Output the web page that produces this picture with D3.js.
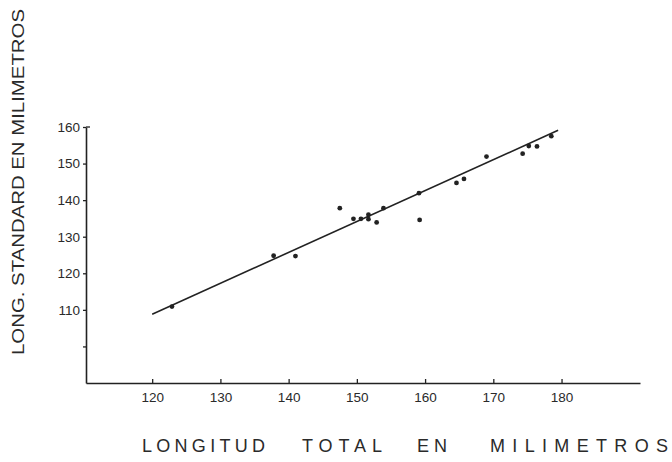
<!DOCTYPE html>
<html><head><meta charset="utf-8">
<script src="https://cdn.jsdelivr.net/npm/d3@7"></script>
<style>
html,body{margin:0;padding:0;background:#fff;}
svg{display:block;}
text{font-family:"Liberation Sans",Arial,sans-serif;fill:#2a2a2a;}
</style></head>
<body>
<svg id="c" width="672" height="462"></svg>
<script>
// Data
const totalLength = [122.9, 137.8, 141.0, 147.5, 149.5, 150.6, 151.7, 151.7, 152.9, 153.9, 159.1, 159.2, 164.6, 165.7, 169.0, 174.3, 175.2, 176.4, 178.5];
const standardLength = [110.9, 124.8, 124.7, 137.8, 134.9, 134.9, 136.0, 134.8, 133.9, 137.8, 141.9, 134.6, 144.7, 145.8, 151.9, 152.7, 154.8, 154.7, 157.5];
const fitX = [120, 179.5];
const fitY = [108.8, 159.1];
const xTicks = [120, 130, 140, 150, 160, 170, 180];
const yTicks = [100, 110, 120, 130, 140, 150, 160];
const yTickLabels = ["", "110", "120", "130", "140", "150", "160"];
const yTitle = "LONG. STANDARD EN MILIMETROS";
const xTitleWords = ["LONGITUD", "TOTAL", "EN", "MILIMETROS"];

const svg = d3.select("#c");
const ink = "#222";

const x = d3.scaleLinear().domain([110.3, 191.5]).range([86, 640]);
const y = d3.scaleLinear().domain([90, 160]).range([383, 127]);

// axes
const gx = svg.append("g").attr("transform", "translate(0,383)")
  .call(d3.axisBottom(x).tickValues(xTicks).tickSizeInner(-4).tickSizeOuter(0).tickPadding(12));
gx.select(".domain").attr("stroke", ink).attr("stroke-width", 1.6);
gx.selectAll(".tick line").attr("stroke", ink).attr("stroke-width", 1.3);
gx.selectAll(".tick text").attr("font-size", 13.5).attr("fill", "#2a2a2a")
  .attr("font-family", "Liberation Sans, Arial, sans-serif").attr("dy", "0.71em").attr("y", 9);

const gy = svg.append("g").attr("transform", "translate(86,0)")
  .call(d3.axisLeft(y).tickValues(yTicks).tickFormat((d, i) => yTickLabels[i]).tickSizeInner(3).tickSizeOuter(0).tickPadding(3));
gy.select(".domain").attr("stroke", ink).attr("stroke-width", 1.6);
gy.selectAll(".tick line").attr("stroke", ink).attr("stroke-width", 1.3);
gy.selectAll(".tick text").attr("font-size", 13.5).attr("fill", "#2a2a2a")
  .attr("font-family", "Liberation Sans, Arial, sans-serif");
// small cap tick at the top of the axis pointing right
svg.append("line").attr("x1", 86).attr("x2", 90).attr("y1", y(160)).attr("y2", y(160))
  .attr("stroke", ink).attr("stroke-width", 1.3);

// fitted line
svg.append("line")
  .attr("x1", x(fitX[0])).attr("y1", y(fitY[0]))
  .attr("x2", x(fitX[1])).attr("y2", y(fitY[1]))
  .attr("stroke", ink).attr("stroke-width", 1.6);

// points
svg.append("g").selectAll("circle")
  .data(totalLength.map((d, i) => [d, standardLength[i]]))
  .join("circle")
  .attr("cx", d => x(d[0])).attr("cy", d => y(d[1])).attr("r", 2.4).attr("fill", ink);

// y title
svg.append("text")
  .attr("transform", "translate(24,182) rotate(-90)")
  .attr("text-anchor", "middle")
  .attr("font-size", 17)
  .attr("textLength", 346).attr("lengthAdjust", "spacingAndGlyphs")
  .text(yTitle);

// x title (widely spaced words)
const wordStarts = [142, 302, 417, 490];
const wordLens = [123, 80, 30, 178];
svg.append("g").selectAll("text").data(xTitleWords).join("text")
  .attr("x", (d, i) => wordStarts[i]).attr("y", 452)
  .attr("font-size", 18)
  .attr("textLength", (d, i) => wordLens[i]).attr("lengthAdjust", "spacing")
  .text(d => d);
</script>
</body></html>
